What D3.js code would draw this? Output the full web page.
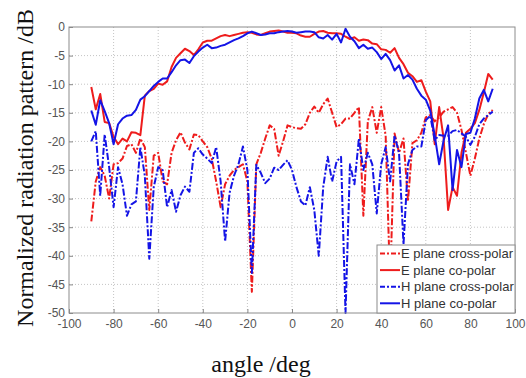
<!DOCTYPE html>
<html>
<head>
<meta charset="utf-8">
<script src="https://cdn.jsdelivr.net/npm/d3@7"></script>
<style>
  body { margin: 0; background: #fff; }
  svg { display: block; }
  .tick text { font-family: Arial, "Liberation Sans", sans-serif; font-size: 12px; fill: #555; }
  .title { font-family: "Liberation Serif", "Times New Roman", serif; font-size: 24px; fill: #111; }
  .legend text { font-family: Arial, "Liberation Sans", sans-serif; font-size: 13px; fill: #333; }
</style>
</head>
<body>
<div id="chart"></div>
<script>
const angles = [-90, -88, -86, -84, -82, -80, -78, -76, -74, -72, -70, -68, -66, -64, -62, -60,
  -58, -56, -54, -52, -50, -48, -46, -44, -42, -40, -38, -36, -34, -32, -30, -28, -26, -24,
  -22, -20, -18, -16, -14, -12, -10, -8, -6, -4, -2, 0, 2, 4, 6, 8, 10, 12, 14, 16, 18, 20,
  22, 24, 26, 28, 30, 32, 34, 36, 38, 40, 42, 44, 46, 48, 50, 52, 54, 56, 58, 60, 62, 64, 66,
  68, 70, 72, 74, 76, 78, 80, 82, 84, 86, 88, 90];

const eCross = [-34.0, -27.0, -24.5, -26.0, -30.0, -24.0, -23.8, -23.0, -20.8, -20.5, -22.0, -19.5,
  -21.0, -32.0, -22.5, -22.0, -27.0, -27.5, -22.0, -19.8, -18.4, -20.2, -21.4, -18.8, -18.9, -20.0,
  -21.0, -23.0, -27.0, -31.5, -27.5, -26.0, -25.0, -24.5, -24.0, -27.0, -46.3, -24.0, -22.0, -19.5,
  -17.2, -17.8, -22.5, -20.0, -17.2, -17.5, -17.7, -17.8, -17.0, -15.0, -13.9, -15.0, -13.5, -12.5,
  -15.0, -17.5, -17.0, -16.0, -16.0, -15.0, -14.0, -33.0, -16.5, -14.0, -18.5, -14.0, -19.0, -45.0,
  -18.6, -22.0, -19.5, -30.5, -20.3, -19.8, -18.5, -15.8, -15.4, -16.5, -15.8, -14.8, -14.4, -14.0,
  -15.0, -18.0, -22.0, -26.0, -23.0, -19.5, -17.0, -15.2, -14.5];

const eCo = [-10.5, -14.4, -11.7, -16.6, -16.8, -19.2, -20.5, -19.5, -20.0, -18.4, -18.5, -18.9,
  -12.0, -11.2, -10.8, -9.9, -10.1, -9.5, -7.0, -5.4, -4.6, -3.8, -4.2, -4.9, -3.9, -2.7, -2.4,
  -2.4, -2.0, -1.6, -1.4, -1.6, -1.4, -1.2, -1.0, -0.9, -1.0, -1.3, -1.4, -1.1, -0.8, -0.7, -0.6,
  -0.8, -1.0, -1.0, -1.1, -1.5, -1.7, -1.7, -1.2, -0.8, -0.7, -1.0, -1.1, -1.1, -1.2, -1.7, -2.1,
  -1.8, -2.4, -2.2, -2.3, -2.9, -3.0, -3.9, -4.0, -4.5, -3.7, -5.4, -6.5, -8.0, -8.6, -9.6, -9.3,
  -11.3, -13.0, -20.5, -14.0, -19.5, -32.0, -28.0, -29.5, -22.0, -18.5, -17.8, -16.8, -14.5, -11.5,
  -8.2, -9.2];

const hCross = [-20.0, -18.2, -29.5, -18.8, -24.5, -31.5, -24.5, -27.5, -33.0, -31.0, -30.5, -21.0,
  -26.0, -40.5, -28.0, -24.5, -25.0, -31.5, -28.5, -32.3, -29.4, -27.9, -28.8, -22.0, -21.2, -22.3,
  -23.0, -23.8, -21.0, -27.0, -37.5, -29.0, -26.0, -24.0, -20.9, -25.0, -43.0, -24.1, -25.5, -27.3,
  -26.5, -24.6, -25.0, -24.1, -23.3, -25.0, -28.0, -30.5, -31.2, -28.0, -32.0, -40.0, -28.0, -22.7,
  -27.0, -23.5, -22.7, -50.0, -24.0, -27.5, -19.5, -25.0, -22.0, -24.0, -32.6, -24.0, -21.0, -27.0,
  -19.0, -22.0, -38.0, -24.0, -21.5, -20.9, -20.9, -16.3, -15.5, -19.8, -18.9, -19.0, -19.0, -18.2,
  -18.0, -18.6, -19.2, -20.6, -19.2, -17.0, -16.0, -15.4, -14.8];

const hCo = [-14.6, -17.1, -12.8, -14.7, -16.8, -20.5, -17.0, -16.0, -15.5, -15.4, -14.5, -12.7,
  -12.1, -11.2, -10.3, -9.6, -9.0, -9.0, -7.9, -6.7, -5.8, -5.7, -6.3, -5.1, -4.3, -3.6, -3.1,
  -3.7, -3.6, -3.3, -3.1, -2.7, -2.3, -2.0, -1.6, -1.1, -0.8, -1.1, -1.4, -1.3, -1.1, -1.1, -0.9,
  -0.8, -0.7, -0.8, -1.0, -0.9, -0.8, -0.8, -0.9, -1.8, -2.0, -1.4, -2.2, -1.2, -2.7, -0.3, -1.7,
  -2.5, -3.7, -3.1, -3.8, -3.6, -4.4, -5.6, -4.7, -5.8, -7.6, -6.7, -9.0, -8.4, -9.2, -10.8, -12.0,
  -12.7, -14.6, -19.0, -24.0, -19.8, -17.2, -28.5, -21.5, -24.5, -18.7, -18.5, -16.0, -12.5, -11.0,
  -13.0, -10.8];

const xTicks = [-100, -80, -60, -40, -20, 0, 20, 40, 60, 80, 100];
const yTicks = [0, -5, -10, -15, -20, -25, -30, -35, -40, -45, -50];

const series = [
  { name: 'E plane cross-polar', values: eCross, color: '#ee1c1c', dash: '7,2,2,2' },
  { name: 'E plane co-polar', values: eCo, color: '#ee1c1c', dash: null },
  { name: 'H plane cross-polar', values: hCross, color: '#1414e6', dash: '7,2,2,2' },
  { name: 'H plane co-polar', values: hCo, color: '#1414e6', dash: null }
];

const width = 526, height = 378;
const margin = { top: 27, right: 11, bottom: 65, left: 69 };
const innerW = width - margin.left - margin.right;
const innerH = height - margin.top - margin.bottom;

const svg = d3.select('#chart').append('svg')
  .attr('width', width)
  .attr('height', height);

const g = svg.append('g')
  .attr('transform', 'translate(' + margin.left + ',' + margin.top + ')');

const x = d3.scaleLinear().domain([-100, 100]).range([0, innerW]);
const y = d3.scaleLinear().domain([-50, 0]).range([innerH, 0]);

// dotted grid
g.append('g')
  .selectAll('line')
  .data(xTicks.slice(1, -1))
  .enter().append('line')
  .attr('x1', d => x(d)).attr('x2', d => x(d))
  .attr('y1', 0).attr('y2', innerH)
  .attr('stroke', '#c4c4c4')
  .attr('stroke-dasharray', '1,2');

g.append('g')
  .selectAll('line')
  .data(yTicks.slice(1, -1))
  .enter().append('line')
  .attr('x1', 0).attr('x2', innerW)
  .attr('y1', d => y(d)).attr('y2', d => y(d))
  .attr('stroke', '#c4c4c4')
  .attr('stroke-dasharray', '1,2');

// axes, ticks inside like matlab, plain hyphen minus in labels
const fmt = d => String(d);
const xAxis = g.append('g')
  .attr('transform', 'translate(0,' + innerH + ')')
  .call(d3.axisBottom(x).tickValues(xTicks).tickFormat(fmt).tickSizeInner(-4).tickSizeOuter(0).tickPadding(6));
const yAxis = g.append('g')
  .call(d3.axisLeft(y).tickValues(yTicks).tickFormat(fmt).tickSizeInner(-4).tickSizeOuter(0).tickPadding(4));

[xAxis, yAxis].forEach(a => {
  a.select('.domain').remove();
  a.selectAll('.tick line').attr('stroke', '#888');
});

const line = d3.line()
  .x((d, i) => x(angles[i]))
  .y(d => y(d));

series.forEach(s => {
  g.append('path')
    .datum(s.values)
    .attr('fill', 'none')
    .attr('stroke', s.color)
    .attr('stroke-width', 2)
    .attr('stroke-linejoin', 'round')
    .attr('stroke-dasharray', s.dash)
    .attr('d', line);
});

// plot box
g.append('rect')
  .attr('width', innerW)
  .attr('height', innerH)
  .attr('fill', 'none')
  .attr('stroke', '#8c8c8c');

// legend
const legend = g.append('g')
  .attr('class', 'legend')
  .attr('transform', 'translate(' + (innerW - 138) + ',' + (innerH - 68) + ')');

legend.append('rect')
  .attr('width', 138)
  .attr('height', 68)
  .attr('fill', '#fff')
  .attr('stroke', '#8c8c8c');

const rows = legend.selectAll('g.row')
  .data(series)
  .enter().append('g')
  .attr('class', 'row')
  .attr('transform', (d, i) => 'translate(0,' + (8.5 + i * 16.6) + ')');

rows.append('line')
  .attr('x1', 3).attr('x2', 23)
  .attr('stroke', d => d.color)
  .attr('stroke-width', 2)
  .attr('stroke-dasharray', d => d.dash ? '5,2,2,2' : null);

rows.append('text')
  .attr('x', 24)
  .attr('dy', '0.35em')
  .text(d => d.name);

// axis titles
svg.append('text')
  .attr('class', 'title')
  .attr('transform', 'translate(33,168) rotate(-90)')
  .attr('text-anchor', 'middle')
  .text('Normalized radiation pattern /dB');

svg.append('text')
  .attr('class', 'title')
  .attr('x', 261)
  .attr('y', 372)
  .attr('text-anchor', 'middle')
  .text('angle /deg');
</script>
</body>
</html>
